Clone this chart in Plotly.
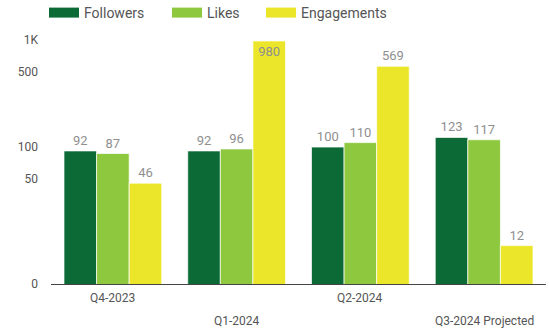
import math
import plotly.graph_objects as go

categories = ["Q4-2023", "Q1-2024", "Q2-2024", "Q3-2024 Projected"]
followers = [92, 92, 100, 123]
likes = [87, 96, 110, 117]
engagements = [46, 980, 569, 12]
series_names = ["Followers", "Likes", "Engagements"]
series_values = [followers, likes, engagements]
colors = ["#0c6a37", "#8ec83f", "#ece62b"]
y_floor = 5.25
y_ceiling = 1045
y_tick_vals = [y_floor, 50, 100, 500, 1000]
y_tick_text = ["0", "50", "100", "500", "1K"]

fig = go.Figure()
for name, vals, col in zip(series_names, series_values, colors):
    positions = ["inside" if v > 900 else "outside" for v in vals]
    fig.add_trace(go.Bar(
        x=categories, y=vals, name=name, showlegend=False,
        marker=dict(color=col, line=dict(color="rgba(255,255,255,0.7)", width=1)),
        text=[str(v) for v in vals], textposition=positions,
        insidetextanchor="end", textangle=0,
        textfont=dict(family="Roboto", size=13, color="#8f8f8f"),
        cliponaxis=False,
    ))

legend_ids = ["legend", "legend2", "legend3"]
legend_left_px = [44, 167, 261]
for name, col, lid in zip(series_names, colors, legend_ids):
    fig.add_trace(go.Scatter(x=[None], y=[None], mode="lines", name=name,
                             legend=lid, line=dict(color=col, width=15)))

row_shift = [-14, -37]
annotations = []
for i, c in enumerate(categories):
    annotations.append(dict(x=c, xref="x", y=0, yref="paper", text=c,
                            showarrow=False, yanchor="middle",
                            yshift=row_shift[i % 2],
                            font=dict(family="Roboto", size=12, color="#555555")))

legend_style = dict(orientation="h", xref="container", xanchor="left",
                    yref="container", y=1 - 13 / 332, yanchor="middle",
                    font=dict(family="Roboto", size=14, color="#555555"),
                    itemwidth=30, bgcolor="rgba(0,0,0,0)")
legends = {lid: dict(legend_style, x=px / 549) for lid, px in zip(legend_ids, legend_left_px)}

fig.update_layout(
    width=549, height=332,
    margin=dict(l=51, r=3, t=38, b=48),
    paper_bgcolor="white", plot_bgcolor="white",
    barmode="group", bargap=0.21, bargroupgap=0,
    font=dict(family="Roboto", size=12, color="#555555"),
    showlegend=True,
    annotations=annotations,
    uniformtext=dict(minsize=13, mode="show"),
    **legends,
)
fig.update_xaxes(showticklabels=False, showline=True, linecolor="#444444",
                 linewidth=1, showgrid=False, ticks="")
fig.update_yaxes(type="log", range=[math.log10(y_floor), math.log10(y_ceiling)],
                 tickvals=y_tick_vals, ticktext=y_tick_text, showgrid=False,
                 zeroline=False, showline=False, ticks="", ticklabelstandoff=12,
                 tickfont=dict(family="Roboto", size=12, color="#555555"))

fig.write_html("out.html")
